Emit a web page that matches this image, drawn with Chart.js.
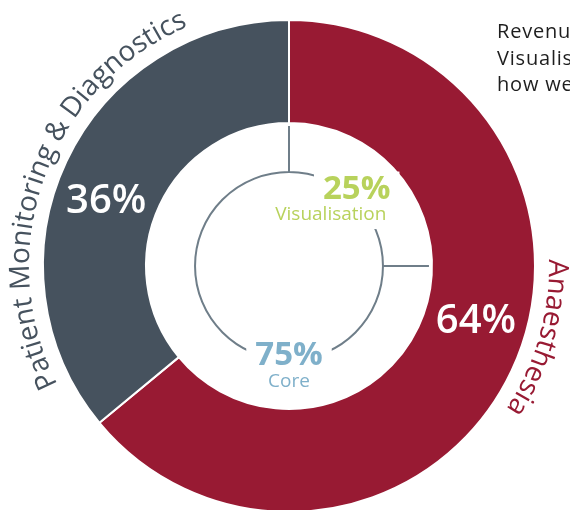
<!DOCTYPE html>
<html lang="en">
<head>
    <meta charset="UTF-8">
    <title>Revenue split</title>
    <script src="https://cdn.jsdelivr.net/npm/chart.js"></script>
    <style>
        html, body {
            margin: 0;
            width: 570px;
            height: 510px;
            overflow: hidden;
            background: #fff;
            font-family: "Open Sans", sans-serif;
        }
        .chart-box {
            position: absolute;
            left: 0;
            top: 0;
            width: 570px;
            height: 532px;
        }
        .note {
            position: absolute;
            left: 497px;
            top: 18px;
            font-size: 20px;
            letter-spacing: 0.8px;
            line-height: 26.5px;
            color: #1e1e1e;
            white-space: nowrap;
        }
    </style>
</head>
<body>
    <div class="chart-box"><canvas id="revChart"></canvas></div>
    <div class="note">Revenue by business line.<br>Visualisation and Core show<br>how well the segments perform.</div>

    <script>
        // outer ring: business lines
        const segments = ["Anaesthesia", "Patient Monitoring & Diagnostics"];
        const segmentShare = [64, 36];
        const segmentColors = ["#981a33", "#46525e"];

        // inner ring: product type
        const products = ["Visualisation", "Core"];
        const productShare = [25, 75];
        const productColors = ["#b8d25c", "#7fb0ca"];

        const ringColor = "#6f7e89";
        const labelFont = '"Open Sans", sans-serif';

        function drawArcText(ctx, text, cx, cy, r, mid, font, color) {
            ctx.save();
            ctx.font = font;
            ctx.fillStyle = color;
            ctx.textAlign = "center";
            ctx.textBaseline = "alphabetic";
            const total = ctx.measureText(text).width;
            let a = mid - total / r / 2;
            for (const ch of text) {
                const w = ctx.measureText(ch).width;
                const ca = a + w / 2 / r;
                ctx.save();
                ctx.translate(cx + r * Math.cos(ca), cy + r * Math.sin(ca));
                ctx.rotate(ca + Math.PI / 2);
                ctx.fillText(ch, 0, 0);
                ctx.restore();
                a += w / r;
            }
            ctx.restore();
        }

        const labelsPlugin = {
            id: "ringLabels",
            afterDatasetsDraw(chart) {
                const ctx = chart.ctx;
                const outer = chart.getDatasetMeta(0).data;
                const inner = chart.getDatasetMeta(1).data;

                // hide the inner ring's outer edge along the donut hole
                const a0 = outer[0];
                ctx.save();
                ctx.strokeStyle = "#fff";
                ctx.lineWidth = 3;
                ctx.beginPath();
                ctx.arc(a0.x, a0.y, a0.innerRadius - 1.5, 0, Math.PI * 2);
                ctx.stroke();
                ctx.restore();

                // outer ring: percentage inside, name curved outside
                outer.forEach((arc, i) => {
                    const a = arc.startAngle + 0.46 * (arc.endAngle - arc.startAngle);
                    const rm = (arc.innerRadius + arc.outerRadius) / 2;
                    ctx.save();
                    ctx.font = "600 40px " + labelFont;
                    ctx.fillStyle = "#fff";
                    ctx.textAlign = "center";
                    ctx.textBaseline = "middle";
                    ctx.fillText(segmentShare[i] + "%", arc.x + rm * Math.cos(a), arc.y + rm * Math.sin(a) + 2);
                    ctx.restore();
                    drawArcText(ctx, segments[i], arc.x, arc.y, arc.outerRadius + 14, a,
                        "28px " + labelFont, segmentColors[i]);
                });

                // inner ring: value + name, with the ring cut behind the text
                const place = [
                    { angle: 45, dx: 35, align: "right", dy1: -10, dy2: 15, dx2: -4 },
                    { angle: 180, dx: 0, align: "center", dy1: -4, dy2: 22, dx2: 0 }
                ];
                inner.forEach((arc, i) => {
                    const p = place[i];
                    const rad = (p.angle - 90) * Math.PI / 180;
                    const x = arc.x + arc.innerRadius * Math.cos(rad) + p.dx;
                    const y = arc.y + arc.innerRadius * Math.sin(rad);
                    const lines = [
                        { t: productShare[i] + "%", f: "700 33px " + labelFont, dy: p.dy1, dx: 0, h: 24 },
                        { t: products[i], f: "19px " + labelFont, dy: p.dy2, dx: p.dx2, h: 17 }
                    ];
                    ctx.save();
                    ctx.textAlign = p.align;
                    ctx.textBaseline = "middle";
                    lines.forEach(l => {
                        ctx.font = l.f;
                        const w = ctx.measureText(l.t).width;
                        const lx = x + l.dx;
                        const left = p.align === "right" ? lx - w : lx - w / 2;
                        ctx.fillStyle = "#fff";
                        ctx.fillRect(left - 9, y + l.dy - l.h / 2 - 6, w + 18, l.h + 12);
                    });
                    lines.forEach(l => {
                        ctx.font = l.f;
                        ctx.fillStyle = productColors[i];
                        ctx.fillText(l.t, x + l.dx, y + l.dy);
                    });
                    ctx.restore();
                });
            }
        };

        const ctxRev = document.getElementById("revChart").getContext("2d");
        const revChart = new Chart(ctxRev, {
            type: "doughnut",
            data: {
                labels: segments,
                datasets: [
                    {
                        data: segmentShare,
                        backgroundColor: segmentColors,
                        borderColor: "#fff",
                        borderWidth: 2,
                        hoverBorderWidth: 2,
                        weight: 103
                    },
                    {
                        data: productShare,
                        backgroundColor: "rgba(0,0,0,0)",
                        borderColor: ringColor,
                        borderWidth: 2,
                        hoverBorderWidth: 2,
                        weight: 49
                    }
                ]
            },
            options: {
                responsive: true,
                maintainAspectRatio: false,
                animation: false,
                events: [],
                radius: 246,
                cutout: "38.2%",
                layout: { padding: { left: 8, right: 0, top: 0, bottom: 0 } },
                plugins: { legend: { display: false }, tooltip: { enabled: false } }
            },
            plugins: [labelsPlugin]
        });
    </script>
</body>
</html>
